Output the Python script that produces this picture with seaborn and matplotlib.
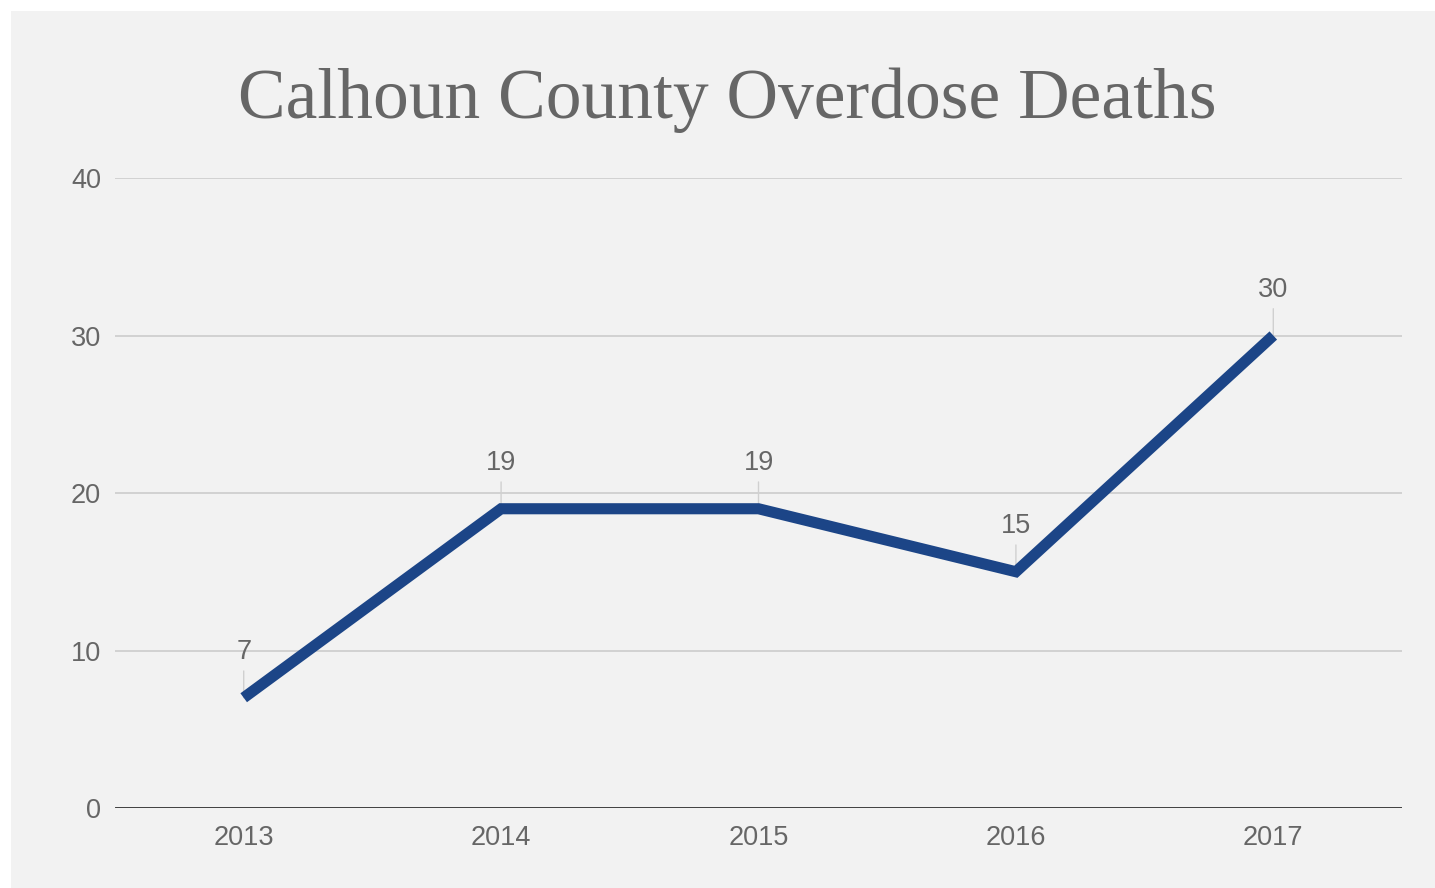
import matplotlib
matplotlib.use("Agg")
import matplotlib.pyplot as plt
from matplotlib.patches import Rectangle
import seaborn as sns
import pandas as pd

years = ["2013", "2014", "2015", "2016", "2017"]
deaths = [7, 19, 19, 15, 30]
y_ticks = [0, 10, 20, 30, 40]
title = "Calhoun County Overdose Deaths"

W, H = 1435, 888
sns.set_theme(style="white")
plt.rcParams["font.family"] = ["Liberation Sans", "DejaVu Sans"]

fig = plt.figure(figsize=(W / 100, H / 100), dpi=100, facecolor="white")
fig.patches.append(Rectangle((11 / W, 0), 1, (H - 11) / H, transform=fig.transFigure,
                             facecolor="#f2f2f2", edgecolor="none", zorder=-5))

ax = fig.add_axes([115 / W, (H - 808) / H, (1402 - 115) / W, (808 - 178) / H])
ax.set_zorder(2)
ax.set_facecolor("#f2f2f2")

df = pd.DataFrame({"year": years, "deaths": deaths})
sns.lineplot(data=df, x="year", y="deaths", ax=ax, color="#1c4587", lw=8,
             sort=False, zorder=3, solid_capstyle="butt", solid_joinstyle="miter")

ax.set_xlim(-0.5, len(years) - 0.5)
ax.set_ylim(0, 40)
ax.set_yticks(y_ticks)
ax.set_yticklabels([str(t) for t in y_ticks])
ax.set_xlabel("")
ax.set_ylabel("")
for s in ax.spines.values():
    s.set_visible(False)
ax.grid(axis="y", color="#cccccc", lw=1.2)
ax.grid(axis="x", visible=False)
ax.set_axisbelow(True)
ax.axhline(0, color="#333333", lw=2, zorder=2)
ax.tick_params(axis="both", length=0, labelsize=19.5, labelcolor="#666666")
ax.tick_params(axis="y", pad=10)
ax.tick_params(axis="x", pad=12)

for i, v in enumerate(deaths):
    ax.annotate(str(v), xy=(i, v), xytext=(0, 33), textcoords="offset points",
                ha="center", va="center", fontsize=19.5, color="#666666", zorder=1,
                arrowprops=dict(arrowstyle="-", color="#d0d0d0", lw=1,
                                shrinkA=2, shrinkB=0))

fig.text(727.5 / W, 1 - 118 / H, title, ha="center", va="baseline",
         fontsize=51.5, color="#666666", family=["Liberation Serif", "DejaVu Serif"])

fig.savefig("out.png", dpi=100, facecolor="white")
